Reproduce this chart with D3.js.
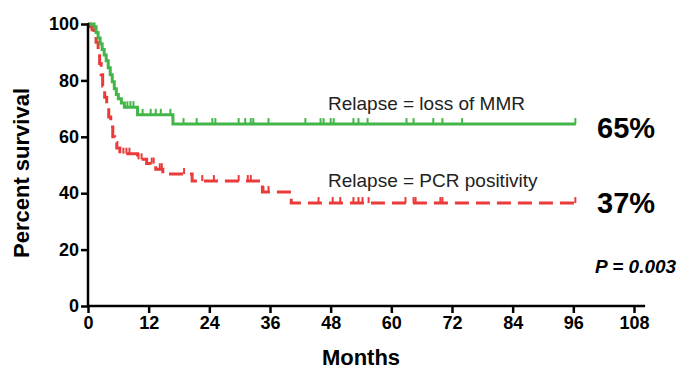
<!DOCTYPE html>
<html><head><meta charset="utf-8">
<script src="https://cdn.jsdelivr.net/npm/d3@7"></script>
<style>
html,body{margin:0;padding:0;background:#fff;}
svg{display:block;font-family:"Liberation Sans",Arial,Helvetica,sans-serif;}
</style></head>
<body>
<svg id="chart" width="681" height="374"></svg>
<script>
// ---- Data ----
const xTicks = [0, 12, 24, 36, 48, 60, 72, 84, 96, 108];
const yTicks = [0, 20, 40, 60, 80, 100];

// Relapse = loss of MMR (green)
const mmrTimes = [0, 1.2, 1.6, 2.0, 2.4, 2.8, 3.2, 3.6, 4.0, 4.4, 4.8, 5.2, 5.6, 6.0, 6.6, 7.2, 9.8, 16.8, 96.5];
const mmrSurv  = [100, 99, 97, 95, 93, 91, 89, 87, 84.5, 82, 79.5, 77, 75, 73.5, 72, 70.5, 67.8, 64.5, 64.5];
const mmrCensor = [7.8, 8.4, 9.0, 10.8, 12.4, 13.4, 14.4, 16.3, 18.9, 21.5, 24.6, 25.2, 29.8, 31.1, 32.2, 32.7, 35.7,
  43.0, 46.0, 46.6, 48.0, 48.6, 52.5, 53.5, 55.3, 63.0, 64.4, 68.3, 70.1, 74.0, 96.4];

// Relapse = PCR positivity (red)
const pcrTimes = [0, 0.3, 0.8, 1.2, 1.6, 2.0, 2.3, 2.6, 2.9, 3.3, 3.7, 4.1, 4.5, 4.9, 5.3, 5.7, 6.3, 9.8, 11.6, 13.4, 14.8, 20.6, 34.5, 40.2, 96.5];
const pcrSurv  = [100, 99, 98, 96, 93.5, 90, 86, 82, 78, 74, 70.5, 67, 63.5, 60, 58, 56, 54, 52, 50.5, 48.5, 46.8, 44.3, 40.4, 36.5, 36.5];
const pcrCensor = [7.0, 7.6, 8.2, 10.0, 10.6, 12.6, 13.0, 14.2, 14.6, 19.0, 22.6, 24.9, 29.8, 31.6, 32.2, 34.7, 35.7,
  45.6, 48.4, 49.9, 52.5, 53.5, 54.3, 55.5, 62.8, 64.4, 64.8, 69.7, 70.1, 96.4];

const seriesLabels = ["Relapse = loss of MMR", "Relapse = PCR positivity"];
const endLabels = ["65%", "37%"];
const pText = "P = 0.003";

// ---- Drawing ----
const svg = d3.select("#chart");
const x = d3.scaleLinear().domain([0, 108]).range([88, 634]);
const y = d3.scaleLinear().domain([0, 100]).range([306, 24]);

const green = "#43b649", red = "#ea3a3a";

function survAt(times, surv, t) {
  let s = surv[0];
  for (let i = 0; i < times.length; i++) { if (times[i] <= t) s = surv[i]; }
  return s;
}

function drawSeries(times, surv, censor, color, dash) {
  const pts = times.map((t, i) => [t, surv[i]]);
  const line = d3.line().x(d => x(d[0])).y(d => y(d[1])).curve(d3.curveStepAfter);
  svg.append("path").attr("d", line(pts)).attr("fill", "none")
    .attr("stroke", color).attr("stroke-width", 3)
    .attr("stroke-dasharray", dash || null);
  svg.append("g").selectAll("line").data(censor).join("line")
    .attr("x1", d => x(d)).attr("x2", d => x(d))
    .attr("y1", d => y(survAt(times, surv, d)))
    .attr("y2", d => y(survAt(times, surv, d)) - 6)
    .attr("stroke", color).attr("stroke-width", 2);
}

drawSeries(pcrTimes, pcrSurv, pcrCensor, red, "14,7");
drawSeries(mmrTimes, mmrSurv, mmrCensor, green, null);

// Axes
const xAxis = d3.axisBottom(x).tickValues(xTicks).tickSize(7).tickPadding(3).tickSizeOuter(0);
const gx = svg.append("g").attr("transform", `translate(0,${y(0)})`).call(xAxis);
gx.select(".domain").remove();
gx.selectAll("line").attr("stroke", "#000").attr("stroke-width", 2.5);
gx.selectAll("text").attr("font-size", 18).attr("font-weight", "bold").attr("fill", "#000")
  .attr("font-family", "'Liberation Sans',Arial,sans-serif");
svg.append("line").attr("x1", x(0) - 1).attr("x2", x(110.2)).attr("y1", y(0)).attr("y2", y(0))
  .attr("stroke", "#000").attr("stroke-width", 2.5);

const yAxis = d3.axisLeft(y).tickValues(yTicks).tickSize(7).tickPadding(2).tickSizeOuter(0);
const gy = svg.append("g").attr("transform", `translate(${x(0)},0)`).call(yAxis);
gy.select(".domain").remove();
gy.selectAll("line").attr("stroke", "#000").attr("stroke-width", 2.5);
gy.selectAll("text").attr("font-size", 18).attr("font-weight", "bold").attr("fill", "#000")
  .attr("font-family", "'Liberation Sans',Arial,sans-serif");
svg.append("line").attr("x1", x(0)).attr("x2", x(0)).attr("y1", y(100) - 1).attr("y2", y(0) + 1)
  .attr("stroke", "#000").attr("stroke-width", 2.5);

// Axis titles
svg.append("text").attr("x", (x(0) + x(108)) / 2).attr("y", 365).attr("text-anchor", "middle")
  .attr("font-size", 22).attr("font-weight", "bold").text("Months");
svg.append("text").attr("transform", `translate(29,${(y(0) + y(100)) / 2 + 8}) rotate(-90)`)
  .attr("text-anchor", "middle").attr("font-size", 22).attr("font-weight", "bold").text("Percent survival");

// Series labels
svg.append("text").attr("x", 328).attr("y", 110).attr("font-size", 19).attr("fill", "#222").text(seriesLabels[0]);
svg.append("text").attr("x", 328).attr("y", 187).attr("font-size", 19).attr("fill", "#222").text(seriesLabels[1]);

svg.append("text").attr("x", 597).attr("y", 138).attr("font-size", 29).attr("font-weight", "bold").attr("fill", "#000").text(endLabels[0]);
svg.append("text").attr("x", 597).attr("y", 213).attr("font-size", 29).attr("font-weight", "bold").attr("fill", "#000").text(endLabels[1]);

svg.append("text").attr("x", 595).attr("y", 273).attr("font-size", 19).attr("font-weight", "bold")
  .attr("font-style", "italic").attr("fill", "#000").text(pText);
</script>
</body></html>
